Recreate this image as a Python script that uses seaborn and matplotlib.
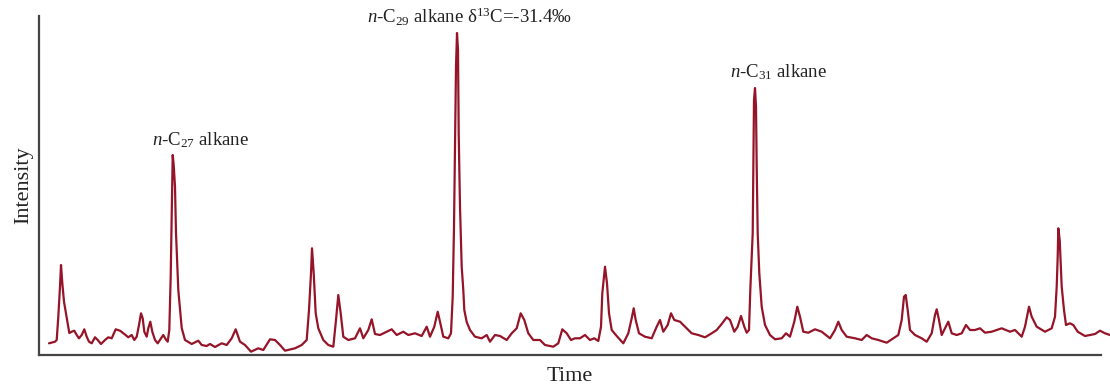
import numpy as np
import pandas as pd
import matplotlib
matplotlib.use("Agg")
import matplotlib.pyplot as plt
import seaborn as sns

# chromatogram trace (time, intensity in arbitrary units)
time = [10.0, 16.0, 17.7, 19.3, 21.0, 22.0, 23.3, 25.0, 26.7, 28.7, 30.3, 32.7, 35.3, 37.7, 40.0,
        42.7, 45.3, 47.7, 50.0, 52.7, 56.0, 58.7, 62.0, 66.0, 69.3, 72.7, 76.7, 81.0, 85.3, 89.3,
        92.7, 95.3, 97.7, 100.0, 102.0, 103.7, 105.3, 107.7, 109.3, 111.3, 113.3, 116.0, 118.7, 122.0,
        124.3, 126.7, 128.7, 130.3, 131.7, 132.7, 133.7, 134.7, 136.0, 137.0, 139.3, 142.7, 146.0,
        152.7, 159.3, 162.7, 167.7, 171.0, 176.0, 182.7, 187.7, 192.7, 196.7, 201.0, 206.0, 212.0,
        219.3, 224.3, 231.0, 236.0, 241.0, 246.0, 256.0, 262.7, 267.7, 270.0, 272.0, 273.0, 274.7,
        276.7, 279.3, 284.3, 289.3, 294.3, 297.0, 299.3, 301.7, 304.3, 309.3, 316.0, 321.0, 324.3,
        329.3, 332.7, 336.0, 341.0, 347.7, 352.7, 357.7, 364.3, 369.3, 376.0, 382.7, 387.7, 391.0,
        395.3, 398.7, 401.0, 404.3, 409.3, 412.0, 413.7, 415.0, 416.0, 417.0, 418.0, 419.0, 419.7,
        421.0, 422.7, 424.3, 425.3, 427.7, 431.0, 436.0, 442.7, 447.7, 451.0, 456.0, 461.0, 467.7,
        472.7, 477.7, 481.7, 485.3, 489.3, 494.3, 501.0, 506.0, 514.3, 519.3, 523.3, 527.7, 532.0,
        536.0, 541.0, 546.0, 551.0, 555.3, 559.3, 562.0, 563.3, 566.0, 568.0, 570.0, 572.7, 577.7,
        584.3, 589.3, 592.7, 594.7, 596.7, 600.0, 606.0, 612.7, 617.7, 621.0, 624.3, 628.7, 632.0,
        635.3, 641.0, 646.0, 652.7, 659.3, 666.0, 672.7, 677.7, 682.7, 687.7, 691.0, 695.3, 698.7,
        702.0, 705.3, 707.7, 710.0, 711.3, 713.7, 714.3, 715.0, 716.0, 717.0, 717.7, 718.7, 720.3,
        722.7, 726.0, 731.0, 736.0, 742.7, 747.0, 751.0, 755.3, 758.3, 761.0, 764.3, 769.3, 776.0,
        782.7, 791.0, 796.0, 799.3, 802.7, 807.7, 816.0, 822.7, 827.7, 832.7, 839.3, 847.7, 854.3,
        859.3, 862.7, 865.0, 866.7, 868.7, 871.0, 876.0, 882.7, 887.7, 892.7, 896.0, 897.7, 900.0,
        902.7, 906.0, 909.3, 912.7, 917.7, 922.7, 927.0, 931.0, 936.0, 941.0, 946.0, 952.7, 962.7,
        971.0, 976.0, 982.7, 986.0, 990.0, 992.7, 997.7, 1006.0, 1012.7, 1016.0, 1017.7, 1018.7,
        1019.3, 1020.7, 1022.7, 1025.0, 1027.0, 1031.0, 1034.3, 1038.7, 1046.0, 1056.0, 1061.0,
        1066.0, 1071.0]
intensity = [11.7, 13.3, 15.0, 38.3, 68.3, 90.0, 72.0, 53.3, 43.3, 32.0, 22.0, 23.3, 24.3, 20.0, 16.7,
             20.0, 25.7, 18.3, 13.3, 11.7, 17.7, 15.0, 11.0, 15.0, 17.7, 16.7, 25.7, 24.3, 21.0, 17.7,
             20.0, 15.0, 18.3, 30.0, 41.7, 36.7, 23.3, 18.3, 26.7, 33.3, 23.3, 15.0, 11.7, 16.7,
             20.0, 15.7, 13.3, 25.0, 79.0, 138.3, 200.0, 190.0, 168.3, 122.0, 65.0, 27.0, 15.0,
             11.0, 14.3, 10.0, 9.0, 11.0, 8.0, 11.7, 10.0, 16.7, 25.7, 13.3, 10.0, 3.3,
             6.7, 5.0, 15.7, 15.0, 10.0, 4.3, 6.7, 10.0, 15.0, 45.0, 81.7, 106.7, 81.7,
             41.7, 26.7, 15.0, 10.0, 8.3, 35.0, 60.0, 41.7, 18.3, 15.0, 16.7, 26.7, 16.7,
             25.0, 35.7, 21.0, 20.0, 23.3, 25.7, 20.0, 23.3, 20.0, 21.7, 19.0, 28.3, 18.3,
             28.3, 43.3, 33.3, 18.3, 16.7, 21.7, 58.3, 128.3, 211.7, 288.3, 322.0, 305.0, 221.7,
             148.3, 88.3, 65.0, 45.0, 33.0, 25.0, 18.3, 16.7, 20.0, 13.3, 20.0, 19.0, 15.0,
             21.7, 26.7, 41.7, 35.0, 21.7, 15.0, 15.0, 10.0, 8.3, 11.7, 25.7, 21.7, 15.0,
             16.7, 16.7, 20.0, 15.0, 16.7, 14.0, 28.3, 61.7, 88.3, 71.7, 41.7, 25.0, 19.0,
             11.7, 21.7, 36.7, 46.7, 35.0, 21.7, 18.3, 16.7, 28.3, 35.0, 23.3, 30.0, 41.7,
             35.0, 33.3, 28.3, 21.7, 20.0, 17.7, 21.7, 25.0, 31.0, 37.7, 35.0, 23.3, 28.3,
             39.0, 28.3, 22.3, 25.0, 65.0, 121.7, 188.3, 255.0, 267.0, 248.3, 188.3, 121.7, 81.7,
             48.3, 30.0, 20.0, 15.7, 16.7, 21.7, 18.3, 33.3, 48.3, 38.3, 23.3, 22.3, 25.7,
             23.3, 16.7, 25.0, 33.3, 25.0, 18.3, 16.7, 15.0, 20.0, 16.7, 15.0, 12.3, 16.7,
             20.0, 35.0, 58.3, 60.0, 45.0, 25.0, 20.0, 16.7, 13.3, 21.7, 40.0, 45.7, 35.0,
             20.0, 26.7, 33.3, 21.7, 20.0, 21.7, 30.0, 25.0, 25.0, 26.7, 22.3, 23.3, 26.7,
             23.3, 25.0, 18.3, 28.3, 48.3, 38.3, 28.3, 23.3, 26.7, 38.3, 68.3, 98.3,
             126.7, 115.0, 68.3, 45.0, 30.0, 31.7, 30.0, 23.3, 19.0, 21.0, 24.3,
             21.7, 20.0]

peak_labels = [r"$n$-C$_{27}$ alkane",
               r"$n$-C$_{29}$ alkane δ$^{13}$C=-31.4‰",
               r"$n$-C$_{31}$ alkane"]
label_x = [161, 431, 739]
label_y = [215, 338, 283]

df = pd.DataFrame({"Time": time, "Intensity": intensity})

sns.set_style("white")
plt.rcParams["font.family"] = ["Liberation Serif", "DejaVu Serif"]
plt.rcParams["mathtext.fontset"] = "custom"
plt.rcParams["mathtext.rm"] = "Liberation Serif"
plt.rcParams["mathtext.it"] = "Liberation Serif:italic"
plt.rcParams["mathtext.bf"] = "Liberation Serif:bold"

fig = plt.figure(figsize=(11.1, 3.85), dpi=100)
ax = fig.add_axes([39 / 1110, 30 / 385, 1062 / 1110, 339 / 385])

sns.lineplot(data=df, x="Time", y="Intensity", ax=ax, color="#951428", linewidth=1.6,
             clip_on=False)

ax.set_xlim(0, 1062)
ax.set_ylim(0, 339)
ax.set_xticks([])
ax.set_yticks([])
ax.set_xlabel("Time", fontsize=16, labelpad=8.5, color="#222222")
ax.set_ylabel("Intensity", fontsize=16, labelpad=4, color="#222222")

for s in ["top", "right"]:
    ax.spines[s].set_visible(False)
for s in ["left", "bottom"]:
    ax.spines[s].set_color("#444444")
    ax.spines[s].set_linewidth(1.6)

for lab, lx, ly in zip(peak_labels, label_x, label_y):
    ax.text(lx, ly, lab, ha="center", va="center", fontsize=13.5, color="#222222")

fig.savefig("out.png", dpi=100)
